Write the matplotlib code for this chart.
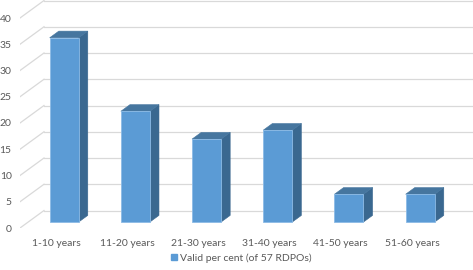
import matplotlib
matplotlib.use("Agg")
import matplotlib.pyplot as plt
from matplotlib.patches import Polygon, Patch

categories = ["1-10 years", "11-20 years", "21-30 years", "31-40 years", "41-50 years", "51-60 years"]
values = [35.1, 21.1, 15.8, 17.5, 5.3, 5.3]
yticks = [0, 5, 10, 15, 20, 25, 30, 35, 40]
series_name = "Valid per cent (of 57 RDPOs)"

FRONT = "#5B9BD5"
TOP = "#46769F"
SIDE = "#3A6890"
GRID = "#D9D9D9"
TXT = "#595959"

plt.rcParams['font.family'] = ['Lato', 'DejaVu Sans']

fig = plt.figure(figsize=(4.73, 2.70), dpi=100)
W, H = 473, 270
ax = fig.add_axes([20 / W, (H - 228) / H, 453 / W, 228 / H])

# oblique projection (data units)
sx, sy = 71.2, 5.25          # px per category / per value unit
wall_dx, wall_dy = 24 / sx, 17.5 / sy
f0, f1 = 0.34, 0.72          # bar depth span as fraction of floor depth
bw = 29 / sx

xl = -36 / sx
xr = 417 / sx
ax.set_xlim(xl, xr)
ax.set_ylim(0, 228 / sy)

# back wall gridlines + side wall diagonals
for v in yticks:
    ax.plot([xl + wall_dx, xr], [v + wall_dy, v + wall_dy], color=GRID, lw=0.9, zorder=1)
    ax.plot([xl, xl + wall_dx], [v, v + wall_dy], color=GRID, lw=0.9, zorder=1)

for i, v in enumerate(values):
    cx = i + f0 * wall_dx
    bot = f0 * wall_dy
    top = bot + v
    ddx = (f1 - f0) * wall_dx
    ddy = (f1 - f0) * wall_dy
    L, R = cx - bw / 2, cx + bw / 2
    ax.add_patch(Polygon([(R, bot), (R + ddx, bot + ddy), (R + ddx, top + ddy), (R, top)],
                         closed=True, facecolor=SIDE, edgecolor=SIDE, lw=0.4, zorder=3))
    ax.add_patch(Polygon([(L, top), (R, top), (R + ddx, top + ddy), (L + ddx, top + ddy)],
                         closed=True, facecolor=TOP, edgecolor=TOP, lw=0.4, zorder=3))
    ax.bar(cx, v, width=bw, bottom=bot, color=FRONT, edgecolor="#8CBBE6", lw=0.6, zorder=4)

ax.set_yticks(yticks)
ax.set_yticklabels([str(t) for t in yticks])
ax.set_xticks(range(len(categories)))
ax.set_xticklabels(categories)
ax.tick_params(axis='y', length=0, pad=6, labelsize=7.5, labelcolor=TXT)
ax.tick_params(axis='x', length=0, pad=8, labelsize=7.5, labelcolor=TXT)
for s in ax.spines.values():
    s.set_visible(False)
ax.set_facecolor('none')

handle = Patch(facecolor=FRONT, edgecolor=FRONT)
fig.legend([handle], [series_name], loc='center', bbox_to_anchor=(0.51, 0.044),
           frameon=False, fontsize=7.5, labelcolor=TXT, handlelength=0.55, handleheight=0.55,
           handletextpad=0.3)

fig.savefig("out.png", dpi=100)
